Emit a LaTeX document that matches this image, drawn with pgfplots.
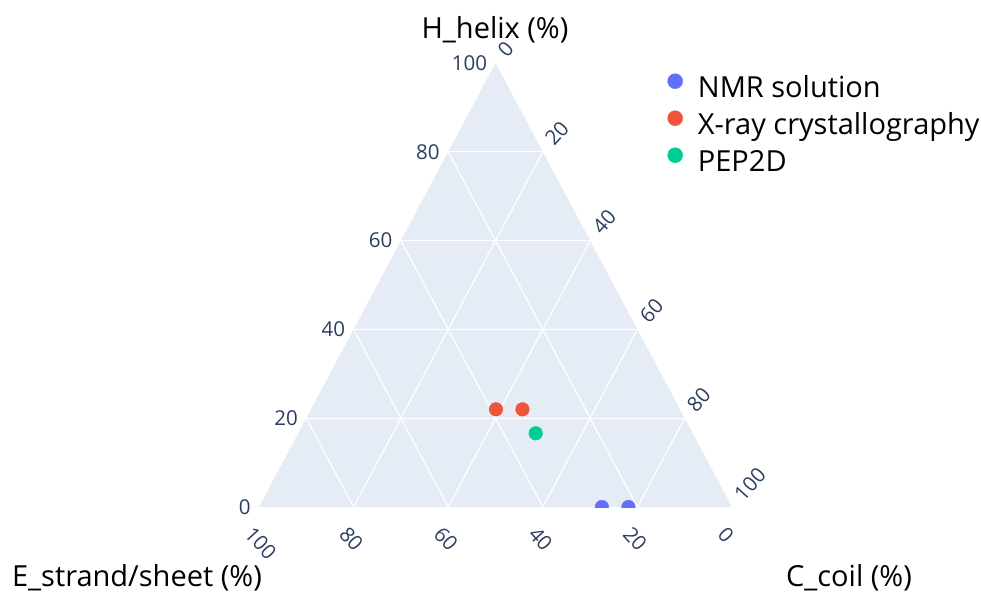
\documentclass[border=0pt]{standalone}
\usepackage{fontspec}
\setmainfont{Open Sans}
\usepackage{pgfplots}
\usepackage{pgfplotstable}
\pgfplotsset{compat=1.18}
\definecolor{bgc}{HTML}{E5ECF6}
\definecolor{tickc}{HTML}{2A3F5F}
\definecolor{nmr}{HTML}{636EFA}
\definecolor{xray}{HTML}{EF553B}
\definecolor{pep}{HTML}{00CC96}
% ternary data: H = helix, E = strand/sheet, C = coil (percent)
\pgfplotstableread{
H E C
0 27.5 72.5
0 21.9 78.1
}\nmrdata
\pgfplotstableread{
H E C
22.0 38.9 39.1
22.0 33.3 44.7
}\xraydata
\pgfplotstableread{
H E C
16.6 33.2 50.2
}\pepdata
\newcommand\tickfont{\fontsize{20.5bp}{24bp}\selectfont}
\newcommand\titlefont{\fontsize{29bp}{35bp}\selectfont}
\begin{document}
\begin{tikzpicture}
\useasboundingbox (-259bp,-88bp) rectangle (722bp,507bp);
\begin{axis}[
  at={(0bp,0bp)}, anchor=south west,
  width=473bp, height=444bp, scale only axis,
  xmin=0, xmax=100, ymin=0, ymax=100,
  hide axis, clip=true, clip mode=individual, clip marker paths=true,
  legend style={at={(0.8636,0.977)}, anchor=north west, draw=none, fill=none,
    inner sep=0pt, outer sep=0pt, column sep=15bp, row sep=0pt,
    font=\titlefont,
    nodes={inner sep=0pt, text height=24.5bp, text depth=12.5bp}},
  legend cell align=left,
  legend image code/.code={\fill (0bp,10.5bp) circle (7.5bp);},
]
\addplot[fill=bgc, draw=none, forget plot] coordinates {(0,0) (100,0) (50,100)} -- cycle;
% lines of constant H
\addplot[white, line width=1.2bp, forget plot] coordinates {(10,20) (90,20)};
\addplot[white, line width=1.2bp, forget plot] coordinates {(20,40) (80,40)};
\addplot[white, line width=1.2bp, forget plot] coordinates {(30,60) (70,60)};
\addplot[white, line width=1.2bp, forget plot] coordinates {(40,80) (60,80)};
% lines of constant C
\addplot[white, line width=1.2bp, forget plot] coordinates {(20,0) (60,80)};
\addplot[white, line width=1.2bp, forget plot] coordinates {(40,0) (70,60)};
\addplot[white, line width=1.2bp, forget plot] coordinates {(60,0) (80,40)};
\addplot[white, line width=1.2bp, forget plot] coordinates {(80,0) (90,20)};
% lines of constant E
\addplot[white, line width=1.2bp, forget plot] coordinates {(80,0) (40,80)};
\addplot[white, line width=1.2bp, forget plot] coordinates {(60,0) (30,60)};
\addplot[white, line width=1.2bp, forget plot] coordinates {(40,0) (20,40)};
\addplot[white, line width=1.2bp, forget plot] coordinates {(20,0) (10,20)};
% data
\addplot[only marks, mark=*, mark size=6.8bp, color=nmr]
  table[x expr=\thisrow{C}+0.5*\thisrow{H}, y=H] {\nmrdata};
\addlegendentry{NMR solution}
\addplot[only marks, mark=*, mark size=6.8bp, color=xray]
  table[x expr=\thisrow{C}+0.5*\thisrow{H}, y=H] {\xraydata};
\addlegendentry{X-ray crystallography}
\addplot[only marks, mark=*, mark size=6.8bp, color=pep]
  table[x expr=\thisrow{C}+0.5*\thisrow{H}, y=H] {\pepdata};
\addlegendentry{PEP2D}
% tick labels
\pgfplotsinvokeforeach{0,20,40,60,80,100}{
  \node[anchor=east, text=tickc, font=\tickfont, xshift=-5bp] at (axis cs:{#1/2},#1) {#1};
  \node[anchor=west, rotate=-48, text=tickc, font=\tickfont, xshift=7bp, yshift=-23bp] at (axis cs:{100-#1},0) {#1};
  \node[anchor=west, rotate=48, text=tickc, font=\tickfont, xshift=8bp, yshift=2bp] at (axis cs:{50+#1/2},{100-#1}) {#1};
}
\end{axis}
\node[font=\titlefont] at (236bp,477bp) {H\_helix (\%)};
\node[font=\titlefont] at (-122bp,-71bp) {E\_strand/sheet (\%)};
\node[font=\titlefont] at (590bp,-71bp) {C\_coil (\%)};
\end{tikzpicture}
\end{document}
